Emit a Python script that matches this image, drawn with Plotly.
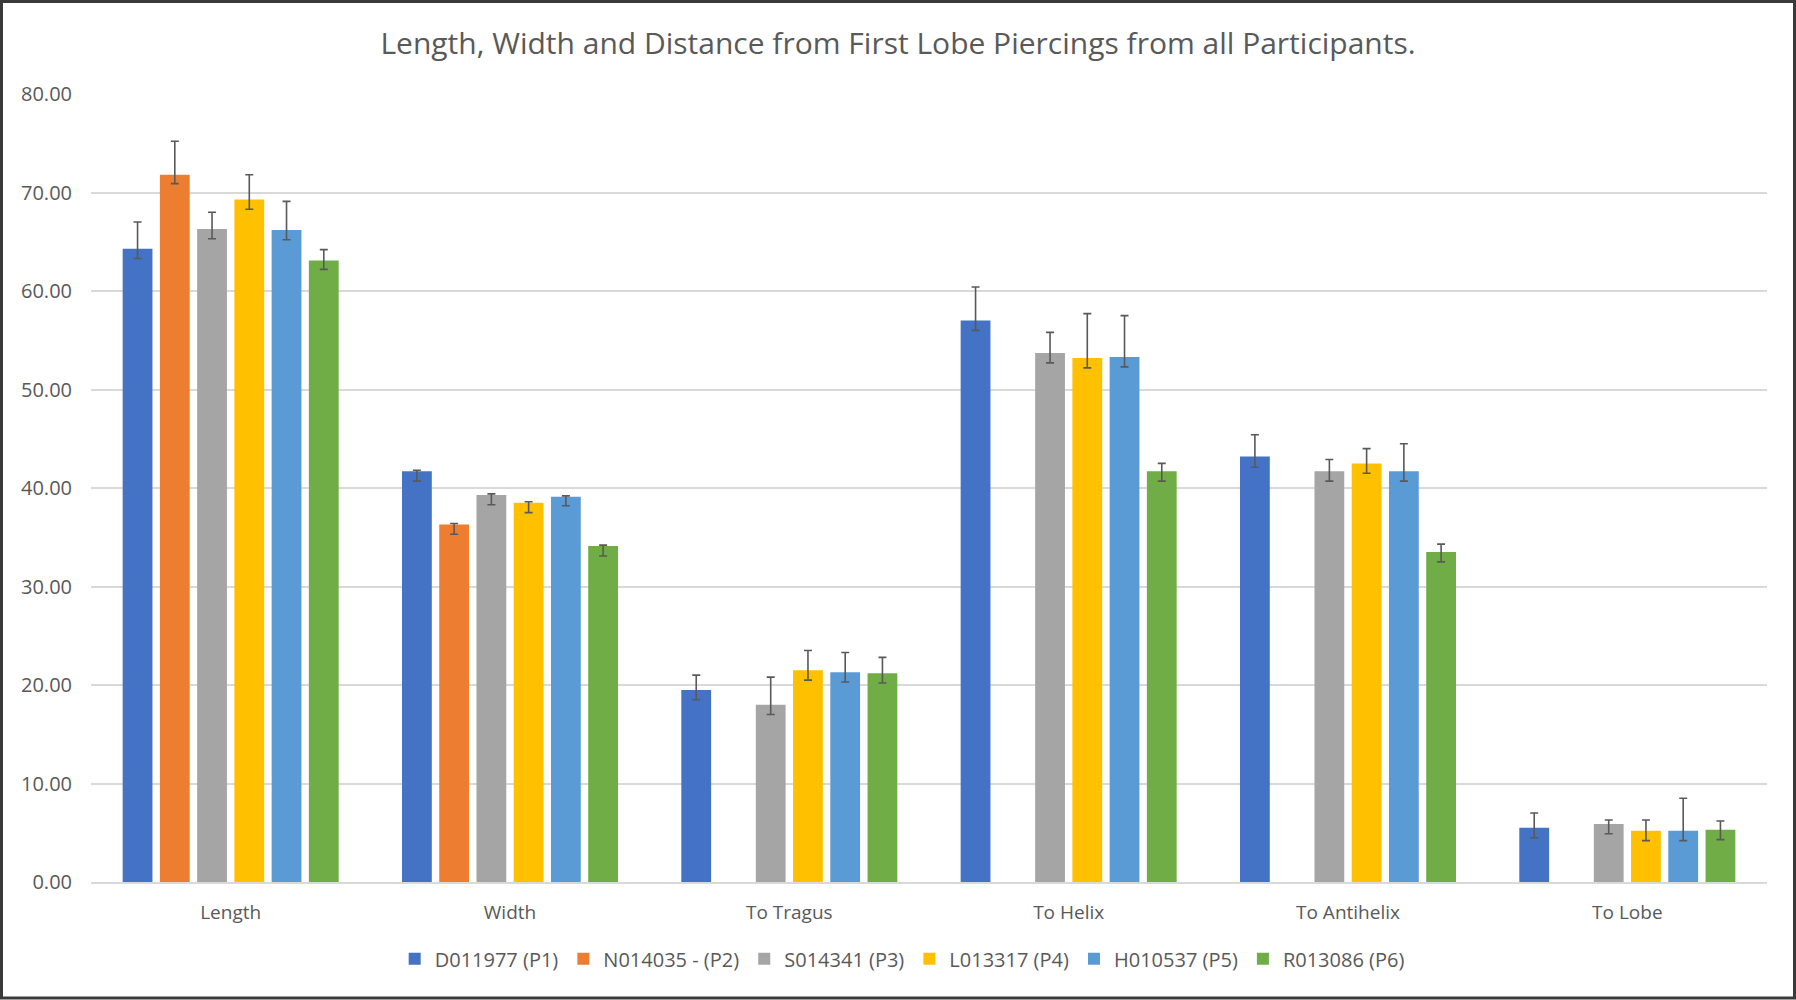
import plotly.graph_objects as go

categories = ["Length", "Width", "To Tragus", "To Helix", "To Antihelix", "To Lobe"]
participants = ["D011977 (P1)", "N014035 - (P2)", "S014341 (P3)", "L013317 (P4)", "H010537 (P5)", "R013086 (P6)"]
colors = ["#4472C4", "#ED7D31", "#A5A5A5", "#FFC000", "#5B9BD5", "#70AD47"]

p1 = [64.3, 41.7, 19.5, 57.0, 43.2, 5.5]
p2 = [71.8, 36.3, None, None, None, None]
p3 = [66.3, 39.3, 18.0, 53.7, 41.7, 5.9]
p4 = [69.3, 38.5, 21.5, 53.2, 42.5, 5.2]
p5 = [66.2, 39.1, 21.3, 53.3, 41.7, 5.2]
p6 = [63.1, 34.1, 21.2, 41.7, 33.5, 5.3]

p1_up = [2.7, 0.1, 1.5, 3.4, 2.2, 1.5]
p2_up = [3.4, 0.1, None, None, None, None]
p3_up = [1.7, 0.1, 2.8, 2.1, 1.2, 0.4]
p4_up = [2.5, 0.1, 2.0, 4.5, 1.5, 1.1]
p5_up = [2.9, 0.1, 2.0, 4.2, 2.8, 3.3]
p6_up = [1.1, 0.1, 1.6, 0.8, 0.8, 0.9]

p1_dn = [1.0, 1.0, 1.0, 1.0, 1.1, 1.0]
p2_dn = [0.9, 1.0, None, None, None, None]
p3_dn = [1.0, 1.0, 1.0, 1.0, 1.0, 1.0]
p4_dn = [1.0, 1.0, 1.0, 1.0, 1.0, 1.0]
p5_dn = [1.0, 0.9, 1.0, 1.0, 1.0, 1.0]
p6_dn = [0.9, 1.0, 1.0, 1.0, 1.0, 1.0]

values = [p1, p2, p3, p4, p5, p6]
ups = [p1_up, p2_up, p3_up, p4_up, p5_up, p6_up]
dns = [p1_dn, p2_dn, p3_dn, p4_dn, p5_dn, p6_dn]

y_ticks = [0, 10, 20, 30, 40, 50, 60, 70, 80]
y_tick_labels = ["0.00", "10.00", "20.00", "30.00", "40.00", "50.00", "60.00", "70.00", "80.00"]

FONT = "Open Sans"
TXT = "#595959"

fig = go.Figure()
for name, vals, up, dn, col in zip(participants, values, ups, dns, colors):
    fig.add_trace(go.Bar(
        name=name, x=categories, y=vals, marker=dict(color=col, line=dict(width=0)),
        error_y=dict(type="data", symmetric=False, array=up, arrayminus=dn,
                     color="#595959", thickness=1.6, width=4),
    ))

fig.update_layout(
    width=1796, height=1000,
    paper_bgcolor="white", plot_bgcolor="white",
    margin=dict(l=91, r=29, t=94, b=118),
    barmode="group", bargap=0.2, bargroupgap=0.2,
    font=dict(family=FONT, color=TXT, size=19),
    title=dict(text="Length, Width and Distance from First Lobe Piercings from all Participants.",
               x=0.5, xref="container", xanchor="center", y=1 - 43 / 1000, yanchor="middle",
               font=dict(family=FONT, size=30, color=TXT)),
    legend=dict(orientation="h", x=0.484, xanchor="center", y=-0.0975, yanchor="middle",
                font=dict(family=FONT, size=20, color=TXT), traceorder="normal",
                itemclick=False),
    showlegend=True,
)
fig.update_xaxes(showgrid=False, showline=True, linecolor="#d9d9d9", linewidth=1.5,
                 ticks="", ticklabelstandoff=12, tickfont=dict(size=19, color=TXT))
fig.update_yaxes(range=[0, 80], tickvals=y_ticks, ticktext=y_tick_labels,
                 showgrid=True, gridcolor="#d9d9d9", gridwidth=1.5,
                 zeroline=False, showline=False, ticks="", ticklabelstandoff=18,
                 tickfont=dict(size=20, color=TXT))

# outer chart border
W, H = 1796, 1000
L, R, T, B = 91, 29, 94, 118
pw, ph = W - L - R, H - T - B
def px_x(x):
    return (x - L) / pw
def px_y(y):
    return (H - B - y) / ph
fig.add_shape(type="rect", xref="paper", yref="paper",
              x0=px_x(1.5), x1=px_x(W - 1.5), y0=px_y(H - 2), y1=px_y(1.5),
              line=dict(color="#3a3a3a", width=3), fillcolor="rgba(0,0,0,0)", layer="above")

fig.write_html("out.html")
